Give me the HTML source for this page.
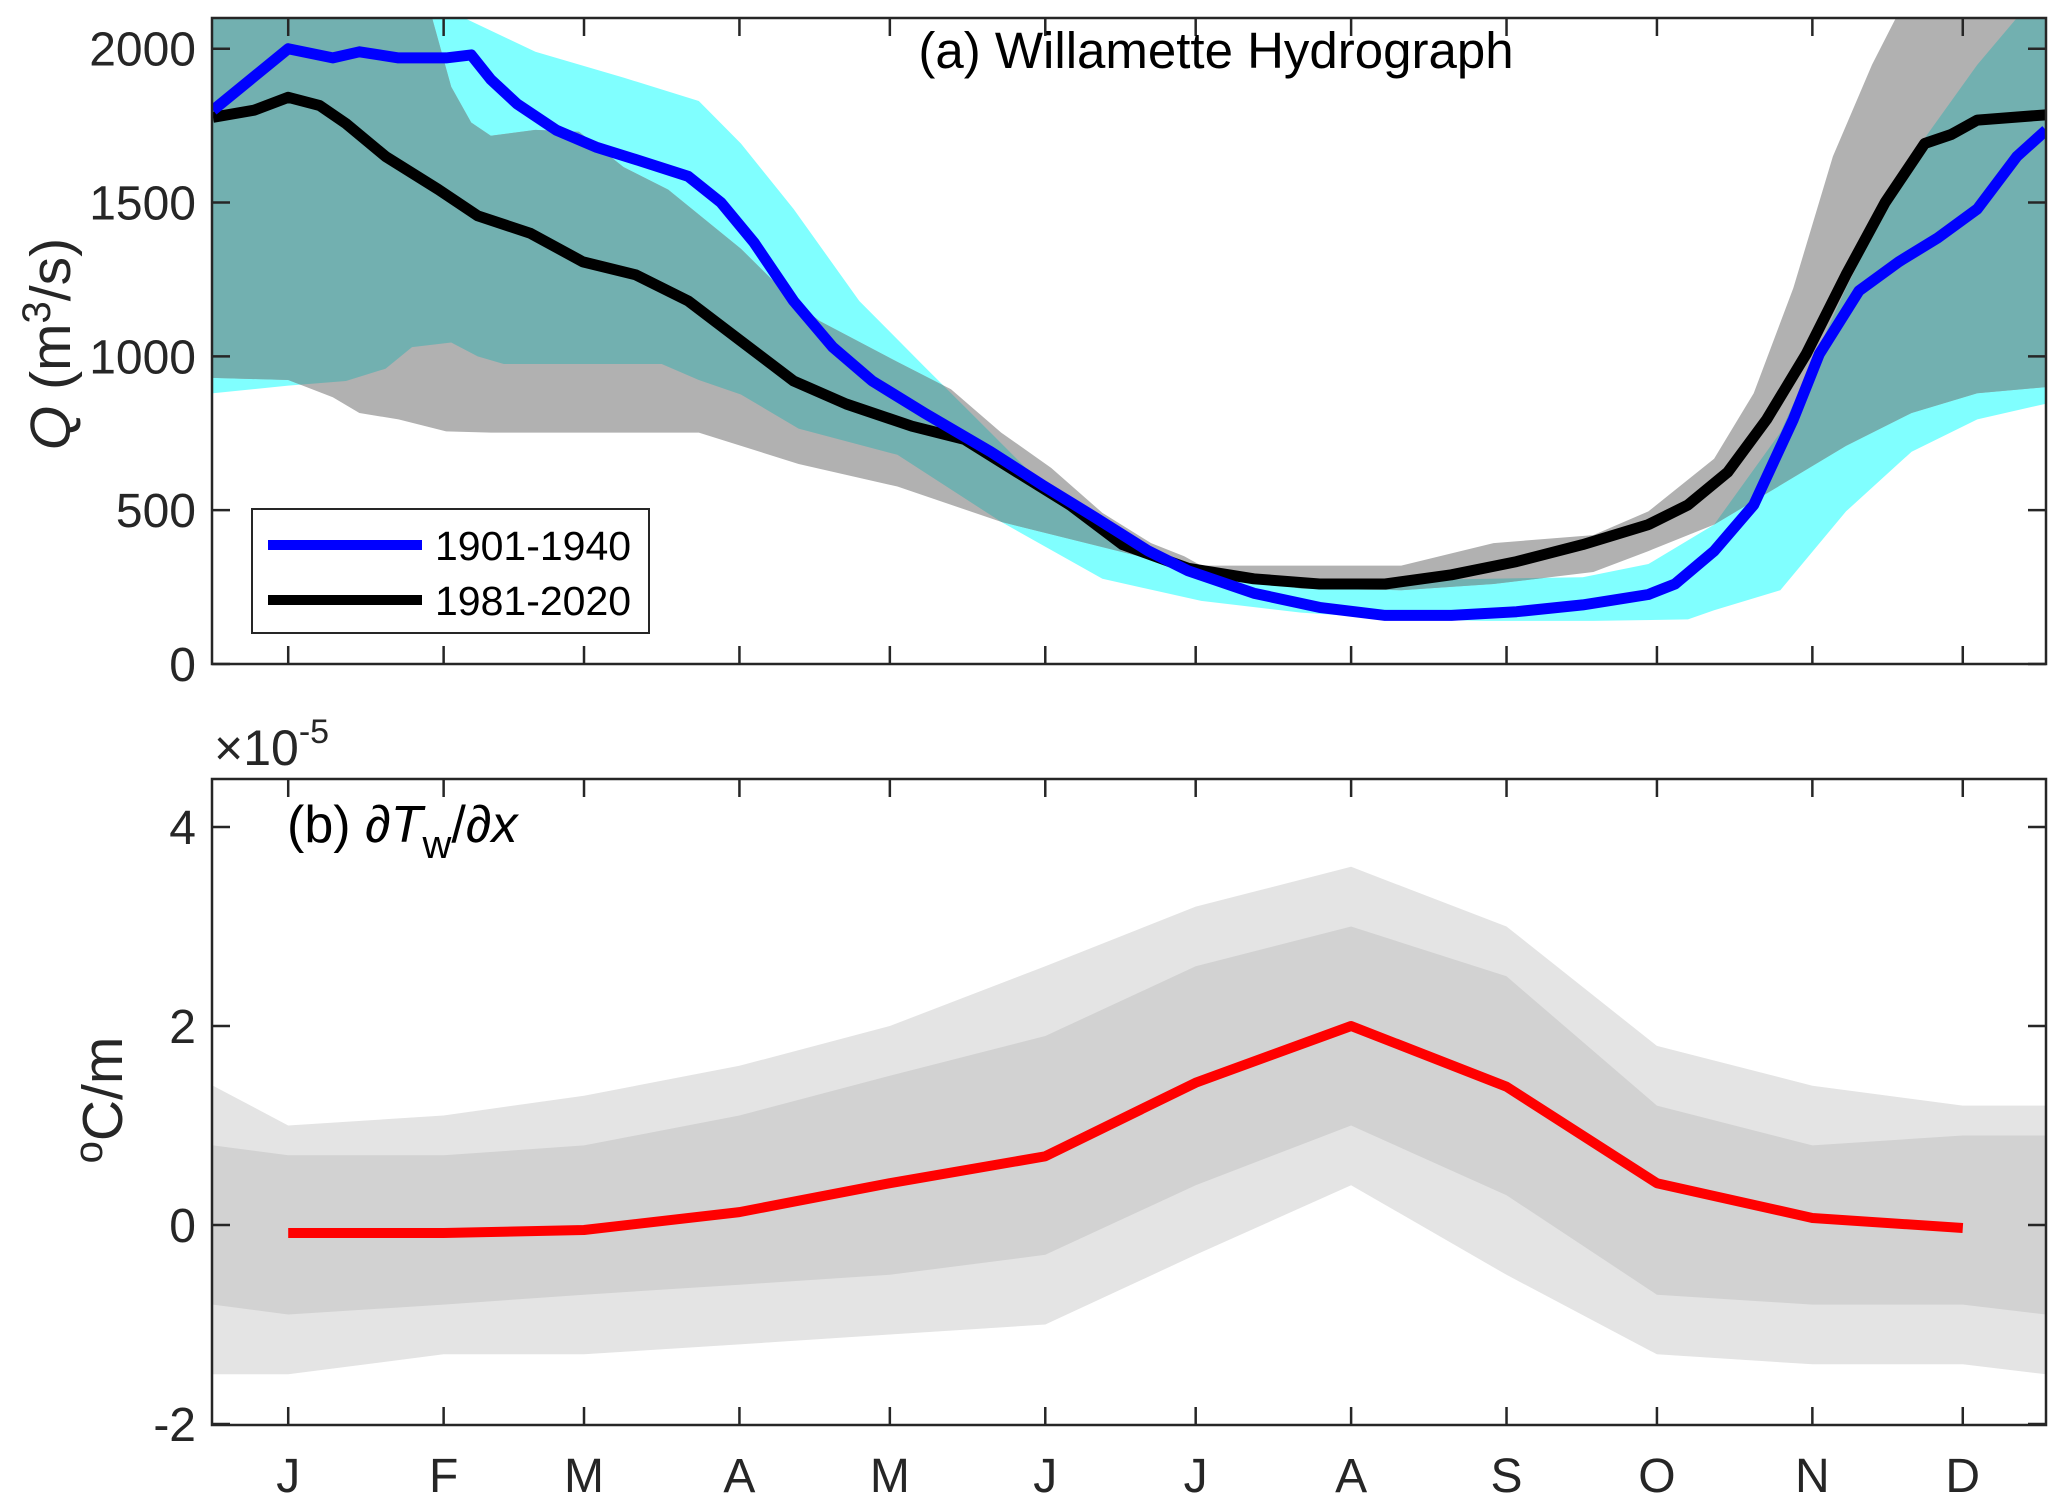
<!DOCTYPE html>
<html><head><meta charset="utf-8"><style>
html,body{margin:0;padding:0;background:#fff}
svg{display:block;font-family:"Liberation Sans",Arial,sans-serif}
</style></head><body>
<svg id="fig" width="2067" height="1507" viewBox="0 0 2067 1507">
<defs>
<clipPath id="clipA"><rect x="212" y="18" width="1834" height="646"/></clipPath>
<clipPath id="clipB"><rect x="212" y="779" width="1834" height="646"/></clipPath>
<clipPath id="cyanClip"><path id="cyanClipPath"/></clipPath>
</defs>
<g id="panelA"></g>
<g id="panelB"></g>
</svg>
<script>
// ---------- shared ----------
const monthLabels = ["J","F","M","A","M","J","J","A","S","O","N","D"];
const monthDays = [1,32,60,91,121,152,182,213,244,274,305,335];

// ---------- panel (a) data ----------
const blueDays = [-14,1,9.9,15.2,23,32.5,37.5,41.4,46.7,54.5,62.4,70.3,80.8,87.3,93.9,101.8,109.6,117.5,128,141.1,151.6,162.1,172.6,180.5,193.6,206.7,219.8,233,246,259.2,272.3,277.6,285.4,293.3,301.2,306.4,314.3,322.2,330,337.9,345.8,351.6];
const blueQ = [1800,2000,1970,1990,1970,1970,1980,1900,1820,1735,1680,1640,1585,1500,1370,1180,1030,920,815,690,580,475,367,303,230,184,158,158,170,192,226,260,367,517,795,1008,1213,1307,1385,1479,1650,1735];
const blackDays = [-14,-5.8,1,7.3,12.5,20.4,30.9,38.8,49.3,59.8,70.3,80.8,91.3,101.8,112.3,125.4,135.9,146.4,156.9,167.4,180.5,193.6,206.7,219.8,233,246,259.2,272.3,280.2,288.1,295.9,303.8,311.7,319.5,327.4,332.7,337.9,351.6];
const blackQ = [1777,1800,1842,1815,1757,1650,1543,1457,1400,1307,1265,1180,1050,920,845,773,730,623,517,388,311,277,260,260,290,333,388,453,517,623,795,1008,1265,1500,1692,1721,1768,1785];
const cyanDays = [-14,1,12.5,20.4,25.7,33.5,38.8,44,59.8,75.5,82.9,91.3,102.8,122.5,143.2,163.4,183.1,203,223,240,261.3,280.2,285.4,298.6,311.7,324.8,337.9,351.6];
const cyanLow = [880,905,920,960,1030,1045,1000,975,975,975,923,876,765,680,462,277,205,167,145,140,140,145,175,240,496,690,795,846];
const cyanUpDays = [-14,23,33.5,50.3,67.9,82.9,91.3,101.8,114.9,128,141.1,154.2,167.4,180.5,193.6,206.7,233,259.2,272.3,285.4,298.6,311.7,324.8,337.9,345.8,351.6];
const cyanUp = [2200,2200,2120,1990,1906,1830,1692,1479,1180,965,752,538,367,300,282,275,275,282,325,453,752,1222,1650,1948,2100,2200];
const grayDays = [-14,1,9.9,15.2,23,32.5,41.4,82.9,102.8,122.5,143.2,163.4,183.1,203,223,241.4,261.3,272.3,285.4,298.6,311.7,324.8,337.9,351.6];
const grayLow = [930,923,867,816,795,756,752,752,650,577,462,380,300,245,240,260,299,367,453,581,709,816,880,900];
const grayUpDays = [-14,28,33.5,37.5,41.4,50.3,59,67.9,76.8,91.3,101.8,107,122.5,133.2,143.2,153.2,163.4,173.1,179.7,183.1,223,241.4,261.3,272.3,285.4,293.3,301.2,309.1,316.9,324.8,351.6];
const grayUp = [2200,2200,1876,1760,1717,1736,1730,1615,1542,1350,1180,1115,982,893,752,637,491,393,350,320,320,393,419,496,667,880,1222,1650,1948,2200,2200];
const qTicks = [0,500,1000,1500,2000];

// ---------- panel (b) data (units of 1e-5 degC/m) ----------
const redVals = [-0.08,-0.08,-0.05,0.13,0.42,0.69,1.43,2.0,1.39,0.42,0.07,-0.03];
const cloudDays = [-14,1,32,60,91,121,152,182,213,244,274,305,335,351.6];
const cloudCoreLow = [-0.8,-0.9,-0.8,-0.7,-0.6,-0.5,-0.3,0.4,1.0,0.3,-0.7,-0.8,-0.8,-0.9];
const cloudCoreHigh = [0.8,0.7,0.7,0.8,1.1,1.5,1.9,2.6,3.0,2.5,1.2,0.8,0.9,0.9];
const cloudOuterLow = [-1.5,-1.5,-1.3,-1.3,-1.2,-1.1,-1.0,-0.3,0.4,-0.5,-1.3,-1.4,-1.4,-1.5];
const cloudOuterHigh = [1.4,1.0,1.1,1.3,1.6,2.0,2.6,3.2,3.6,3.0,1.8,1.4,1.2,1.2];
const gTicks = [-2,0,2,4];

// ---------- scales ----------
const X0=212, X1=2046;
const xS = d => X0 + (d + 14.2) * (X1 - X0) / 365.8;
const yA = q => 664 - q * (664 - 48.7) / 2000;
const yB = v => 1225 - v * 99.5;
const NS="http://www.w3.org/2000/svg";
function mk(tag, attrs, parent){const e=document.createElementNS(NS,tag);for(const k in attrs)e.setAttribute(k,attrs[k]);parent.appendChild(e);return e;}
function linePath(xs, ys, yf){return xs.map((d,i)=>(i?"L":"M")+xS(d).toFixed(1)+","+yf(ys[i]).toFixed(1)).join("");}
function bandPath(xl, lo, xu, hi, yf){
  let p=xl.map((d,i)=>(i?"L":"M")+xS(d).toFixed(1)+","+yf(lo[i]).toFixed(1)).join("");
  for(let i=xu.length-1;i>=0;i--)p+="L"+xS(xu[i]).toFixed(1)+","+yf(hi[i]).toFixed(1);
  return p+"Z";
}

// ---------- panel (a) ----------
const A=document.getElementById("panelA");
const gA=mk("g",{"clip-path":"url(#clipA)"},A);
const cyanD=bandPath(cyanDays,cyanLow,cyanUpDays,cyanUp,yA);
const grayD=bandPath(grayDays,grayLow,grayUpDays,grayUp,yA);
document.getElementById("cyanClipPath").setAttribute("d",cyanD);
const cb=mk("path",{d:cyanD,fill:"#80ffff"},gA);


const gb=mk("path",{d:grayD,fill:"#b1b1b1"},gA);


const ov=mk("path",{d:grayD,fill:"#72b0b0","clip-path":"url(#cyanClip)"},gA);


const bl=mk("path",{d:linePath(blackDays,blackQ,yA),fill:"none",stroke:"#000","stroke-width":11,"stroke-linejoin":"round"},gA);


const bu=mk("path",{d:linePath(blueDays,blueQ,yA),fill:"none",stroke:"#0000ff","stroke-width":11,"stroke-linejoin":"round"},gA);



function frame(parent, top, bottom, yTicks, yf, labelFmt){
  const fr=mk("rect",{x:X0,y:top,width:X1-X0,height:bottom-top,fill:"none",stroke:"#262626","stroke-width":2.5},parent);
  
  
  monthDays.forEach(d=>{
    const x=xS(d);
    mk("line",{x1:x,y1:bottom,x2:x,y2:bottom-18,stroke:"#262626","stroke-width":2.5},parent);
    mk("line",{x1:x,y1:top,x2:x,y2:top+18,stroke:"#262626","stroke-width":2.5},parent);
  });
  yTicks.forEach(v=>{
    const y=yf(v);
    mk("line",{x1:X0,y1:y,x2:X0+18,y2:y,stroke:"#262626","stroke-width":2.5},parent);
    mk("line",{x1:X1,y1:y,x2:X1-18,y2:y,stroke:"#262626","stroke-width":2.5},parent);
    const t=mk("text",{x:X0-16,y:y+17,"text-anchor":"end","font-size":48,fill:"#262626"},parent);
    t.textContent=labelFmt(v);
    
    
  });
}
frame(A,18,664,qTicks,yA,v=>String(v));

// ---------- panel (b) ----------
const B=document.getElementById("panelB");
const gB=mk("g",{"clip-path":"url(#clipB)"},B);
const co=mk("path",{d:bandPath(cloudDays,cloudOuterLow,cloudDays,cloudOuterHigh,yB),fill:"#e4e4e4"},gB);


const cc=mk("path",{d:bandPath(cloudDays,cloudCoreLow,cloudDays,cloudCoreHigh,yB),fill:"#d2d2d2"},gB);


const rl=mk("path",{d:linePath(monthDays,redVals,yB),fill:"none",stroke:"#ff0000","stroke-width":10,"stroke-linejoin":"round"},gB);


frame(B,779,1425,gTicks,yB,v=>String(v));
monthDays.forEach((d,i)=>{
  const t=mk("text",{x:xS(d),y:1492,"text-anchor":"middle","font-size":48,fill:"#262626"},B);
  t.textContent=monthLabels[i];
  
  
});
</script>
<script>
const fig=document.getElementById("fig");
fig.insertAdjacentHTML("beforeend",`
<text x="1216" y="68" text-anchor="middle" font-size="51" fill="#000">(a) Willamette Hydrograph</text>
<text transform="translate(70,344) rotate(-90)" text-anchor="middle" font-size="57" fill="#262626"><tspan font-style="italic">Q</tspan> (m<tspan dy="-20" font-size="40">3</tspan><tspan dy="20">/s)</tspan></text>
<g>
<rect x="252" y="509" width="397" height="124" fill="#fff" stroke="#262626" stroke-width="2"/>
<line x1="268" y1="545" x2="422" y2="545" stroke="#0000ff" stroke-width="10"/>
<text x="435" y="560" font-size="41" fill="#000">1901-1940</text>
<line x1="268" y1="600" x2="422" y2="600" stroke="#000" stroke-width="10"/>
<text x="435" y="615" font-size="41" fill="#000">1981-2020</text>
</g>
<text x="214" y="765" font-size="50" fill="#262626">×10<tspan dy="-22" font-size="34">-5</tspan></text>
<text x="287" y="842" font-size="52" fill="#000">(b)  ∂<tspan font-style="italic">T</tspan><tspan dy="16" font-size="40">w</tspan><tspan dy="-16">/∂</tspan><tspan font-style="italic">x</tspan></text>
<text transform="translate(122,1100) rotate(-90)" text-anchor="middle" font-size="57" fill="#262626"><tspan dy="-20" font-size="40">o</tspan><tspan dy="20">C/m</tspan></text>
`);
</script>
</body></html>
